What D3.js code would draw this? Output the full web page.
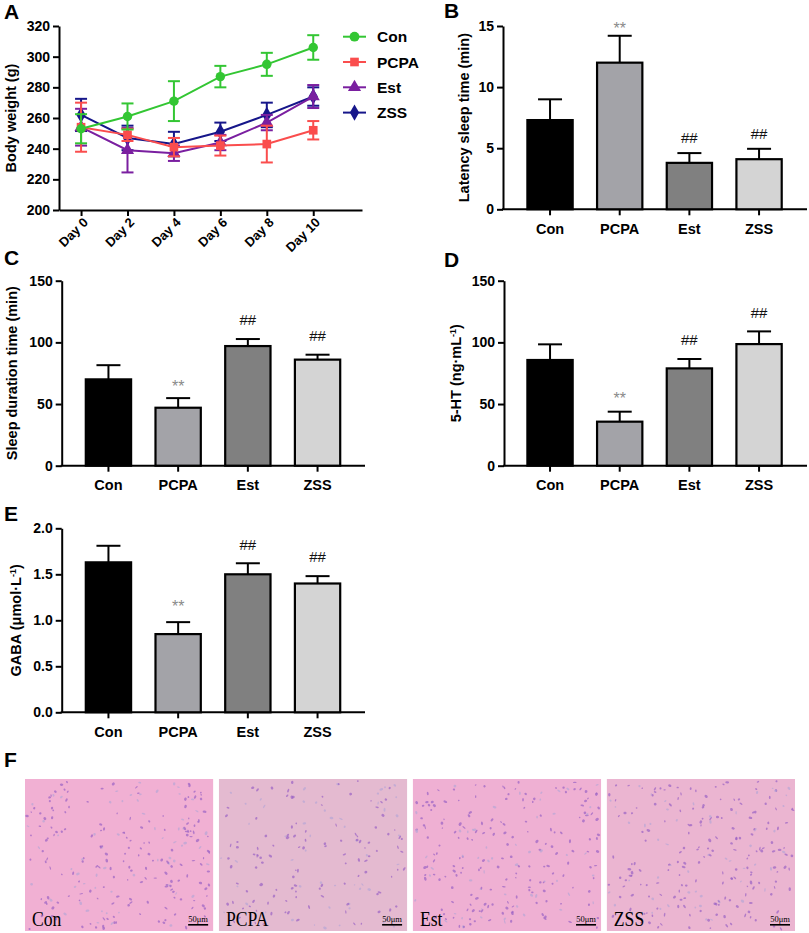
<!DOCTYPE html>
<html>
<head>
<meta charset="utf-8">
<script src="https://cdn.jsdelivr.net/npm/d3@7"></script>
<style>
  body { margin: 0; background: #fff; }
  text { font-family: "Liberation Sans", Arial, sans-serif; }
</style>
</head>
<body>
<div id="chart"></div>
<script>
const svgWidth = 809;
const svgHeight = 933;

// data
const groups = ['Con', 'PCPA', 'Est', 'ZSS'];
const days = [0, 2, 4, 6, 8, 10];
const dayLabels = ['Day 0', 'Day 2', 'Day 4', 'Day 6', 'Day 8', 'Day 10'];
const weightTicks = [200, 220, 240, 260, 280, 300, 320];

const conWeight = [253, 261, 271, 287, 295, 306];
const conWeightErr = [9.5, 8.5, 13, 7, 7.5, 8];
const pcpaWeight = [254, 249, 241, 242, 243, 252];
const pcpaWeightErr = [16, 4, 6, 6.5, 12, 6];
const estWeight = [254, 239, 237, 244, 257, 274];
const estWeightErr = [12, 14.5, 5, 5, 5, 7.5];
const zssWeight = [262, 247, 243, 251, 262, 274];
const zssWeightErr = [10.5, 8, 8, 6, 8, 6];

const latency = [7.3, 12.0, 3.8, 4.1];
const latencyErr = [1.7, 2.2, 0.8, 0.85];
const duration = [70, 47, 97, 86];
const durationErr = [11.5, 7.8, 5.7, 4];
const serotonin = [85.7, 35.7, 78.9, 98.6];
const serotoninErr = [12.7, 8.1, 7.6, 10.3];
const gaba = [1.63, 0.85, 1.50, 1.40];
const gabaErr = [0.18, 0.13, 0.12, 0.08];
const marks = ['', '**', '##', '##'];

const barColors = ['#000000', '#a3a3a8', '#808080', '#d4d4d4'];
const lineColors = ['#33c633', '#fa4d4d', '#7a1fa0', '#16168a'];
const symbols = [d3.symbolCircle, d3.symbolSquare, d3.symbolTriangle, d3.symbolDiamond];
const histFills = ['#f1b0d3', '#e4bad0', '#efb0d3', '#ebb5d1'];

const canvas = d3.select('#chart')
  .append('svg')
  .attr('width', svgWidth)
  .attr('height', svgHeight);

function panelLabel(txt, x, y) {
  canvas.append('text')
    .attr('x', x).attr('y', y)
    .attr('font-size', 21).attr('font-weight', 'bold')
    .text(txt);
}

function styleAxis(g, fs) {
  g.selectAll('path, line').attr('stroke', '#000').attr('stroke-width', 2);
  g.selectAll('text').attr('font-size', fs).attr('font-weight', 'bold').attr('fill', '#000')
    .style('font-family', '"Liberation Sans", Arial, sans-serif');
}

// x is the baseline position of the rotated title
function yTitle(parts, x, y) {
  const t = canvas.append('text')
    .attr('transform', `translate(${x},${y}) rotate(-90)`)
    .attr('text-anchor', 'middle')
    .attr('font-size', 14.5).attr('font-weight', 'bold');
  parts.forEach(p => {
    const s = t.append('tspan').text(p.t);
    if (p.sup) s.attr('font-size', 9).attr('baseline-shift', 'super');
  });
}

// panel A: body weight
(function () {
  const x = d3.scaleLinear().domain([-0.95, 12.1]).range([59, 362]);
  const y = d3.scaleLinear().domain([200, 320]).range([210, 26]);

  const gy = canvas.append('g').attr('transform', 'translate(59,0)')
    .call(d3.axisLeft(y).tickValues(weightTicks).tickSize(6).tickPadding(3).tickSizeOuter(0));
  styleAxis(gy, 14);

  const gx = canvas.append('g').attr('transform', 'translate(0,210)')
    .call(d3.axisBottom(x).tickValues(days).tickFormat((d, i) => dayLabels[i])
      .tickSize(6).tickSizeOuter(0));
  styleAxis(gx, 13);
  gx.selectAll('text')
    .attr('text-anchor', 'end')
    .attr('transform', 'translate(4,10) rotate(-45)')
    .attr('dy', '0.35em').attr('y', 0).attr('x', 0);

  yTitle([{ t: 'Body weight (g)' }], 16, 118);

  const series = [
    { name: 'Con', v: conWeight, e: conWeightErr },
    { name: 'PCPA', v: pcpaWeight, e: pcpaWeightErr },
    { name: 'Est', v: estWeight, e: estWeightErr },
    { name: 'ZSS', v: zssWeight, e: zssWeightErr }
  ];
  const order = [3, 2, 1, 0];
  const line = d3.line().x((d, i) => x(days[i])).y(d => y(d));

  order.forEach(k => {
    const s = series[k];
    const col = lineColors[k];
    const g = canvas.append('g');
    g.append('path').attr('d', line(s.v)).attr('fill', 'none')
      .attr('stroke', col).attr('stroke-width', 2);
    s.v.forEach((v, i) => {
      const cx = x(days[i]);
      g.append('line').attr('x1', cx).attr('x2', cx)
        .attr('y1', y(v - s.e[i])).attr('y2', y(v + s.e[i]))
        .attr('stroke', col).attr('stroke-width', 2);
      [v - s.e[i], v + s.e[i]].forEach(w => {
        g.append('line').attr('x1', cx - 6).attr('x2', cx + 6)
          .attr('y1', y(w)).attr('y2', y(w))
          .attr('stroke', col).attr('stroke-width', 2);
      });
      g.append('path')
        .attr('d', d3.symbol().type(symbols[k]).size(k === 0 ? 70 : 75)())
        .attr('transform', `translate(${cx},${y(v)})`)
        .attr('fill', col);
    });
  });

  // legend
  groups.forEach((name, k) => {
    const ly = 36.7 + k * 25.3;
    canvas.append('line').attr('x1', 343).attr('x2', 366)
      .attr('y1', ly).attr('y2', ly)
      .attr('stroke', lineColors[k]).attr('stroke-width', 2);
    canvas.append('path')
      .attr('d', d3.symbol().type(symbols[k]).size(75)())
      .attr('transform', `translate(354.5,${ly})`)
      .attr('fill', lineColors[k]);
    canvas.append('text').attr('x', 377).attr('y', ly).attr('dy', '0.36em')
      .attr('font-size', 15.5).attr('font-weight', 'bold').text(name);
  });

  panelLabel('A', 4, 19);
})();

// bar panels
function barPanel(opt) {
  const y = d3.scaleLinear().domain([0, opt.max]).range([opt.bottom, opt.top]);
  const x = d3.scaleBand().domain(groups).range(opt.band)
    .paddingInner(0.35).paddingOuter(0.175);
  const bw = x.bandwidth();

  const gy = canvas.append('g').attr('transform', `translate(${opt.axisX},0)`)
    .call(d3.axisLeft(y).tickValues(opt.ticks).tickFormat(opt.fmt || d3.format('d'))
      .tickSize(6).tickPadding(3).tickSizeOuter(0));
  styleAxis(gy, 14);

  const gx = canvas.append('g').attr('transform', `translate(0,${opt.bottom})`)
    .call(d3.axisBottom(x).tickSize(6).tickPadding(8).tickSizeOuter(0));
  gx.select('.domain').remove();
  styleAxis(gx, 14.5);
  canvas.append('line')
    .attr('x1', opt.axisX - 1).attr('x2', opt.xEnd)
    .attr('y1', opt.bottom).attr('y2', opt.bottom)
    .attr('stroke', '#000').attr('stroke-width', 2);

  groups.forEach((g, i) => {
    const v = opt.values[i];
    const e = opt.errs[i];
    const cx = x(g) + bw / 2;
    canvas.append('line').attr('x1', cx).attr('x2', cx)
      .attr('y1', y(v)).attr('y2', y(v + e))
      .attr('stroke', '#000').attr('stroke-width', 2);
    canvas.append('line').attr('x1', cx - 12).attr('x2', cx + 12)
      .attr('y1', y(v + e)).attr('y2', y(v + e))
      .attr('stroke', '#000').attr('stroke-width', 2);
    canvas.append('rect')
      .attr('x', x(g)).attr('y', y(v))
      .attr('width', bw).attr('height', opt.bottom - y(v))
      .attr('fill', barColors[i])
      .attr('stroke', '#000').attr('stroke-width', 2.2);

    const m = marks[i];
    if (m === '**') {
      const fs = 16;
      canvas.append('text').attr('x', cx)
        .attr('y', y(v + e) - opt.starGap + 0.58 * fs)
        .attr('text-anchor', 'middle').attr('font-size', fs)
        .attr('fill', '#8a8a8a').text(m);
    } else if (m === '##') {
      const fs = 15;
      canvas.append('text').attr('x', cx)
        .attr('y', y(v + e) - opt.hashGap + 0.35 * fs)
        .attr('text-anchor', 'middle').attr('font-size', fs)
        .attr('fill', '#111').text(m);
    }
  });

  yTitle(opt.title, opt.titleX, (opt.top + opt.bottom) / 2);
  panelLabel(opt.label, opt.labelX, opt.labelY);
}

barPanel({
  values: latency, errs: latencyErr, max: 15, ticks: [0, 5, 10, 15],
  top: 26, bottom: 209.3, axisX: 503, xEnd: 807, band: [515.2, 793.9],
  title: [{ t: 'Latency sleep time (min)' }], titleX: 469,
  label: 'B', labelX: 444, labelY: 18, starGap: 11, hashGap: 15
});

barPanel({
  values: duration, errs: durationErr, max: 150, ticks: [0, 50, 100, 150],
  top: 280.7, bottom: 465.7, axisX: 61.7, xEnd: 365, band: [73.6, 352.4],
  title: [{ t: 'Sleep duration time (min)' }], titleX: 17,
  label: 'C', labelX: 4, labelY: 265, starGap: 15, hashGap: 19
});

barPanel({
  values: serotonin, errs: serotoninErr, max: 150, ticks: [0, 50, 100, 150],
  top: 280.7, bottom: 465.7, axisX: 504, xEnd: 807, band: [515.2, 793.9],
  title: [{ t: '5-HT (ng·mL' }, { t: '-1', sup: true }, { t: ')' }], titleX: 461,
  label: 'D', labelX: 444, labelY: 267, starGap: 17, hashGap: 19
});

barPanel({
  values: gaba, errs: gabaErr, max: 2, ticks: [0, 0.5, 1, 1.5, 2], fmt: d3.format('.1f'),
  top: 528.3, bottom: 712.3, axisX: 61.7, xEnd: 365, band: [73.6, 352.4],
  title: [{ t: 'GABA (μmol·L' }, { t: '-1', sup: true }, { t: ')' }], titleX: 21,
  label: 'E', labelX: 4, labelY: 521, starGap: 19, hashGap: 19
});

// panel F: histology placeholders
panelLabel('F', 4, 767);
const hx = d3.scaleBand().domain(groups).range([25, 795]).paddingInner(0.03);
const hTop = 779, hBottom = 931;

groups.forEach((g, k) => {
  const x0 = hx(g);
  const w = hx.bandwidth();
  const grp = canvas.append('g');
  grp.append('rect').attr('x', x0).attr('y', hTop)
    .attr('width', w).attr('height', hBottom - hTop)
    .attr('fill', histFills[k]);

  // nuclei texture (deterministic)
  let seed = 17 + k * 101;
  const rnd = () => { seed = (seed * 16807) % 2147483647; return seed / 2147483647; };
  const n = k === 1 ? 170 : 240;
  for (let i = 0; i < n; i++) {
    const cx = x0 + 2 + rnd() * (w - 4);
    const cy = hTop + 2 + rnd() * (hBottom - hTop - 4);
    grp.append('ellipse')
      .attr('cx', cx).attr('cy', cy)
      .attr('rx', 0.8 + rnd() * 1.2).attr('ry', 0.6 + rnd() * 0.8)
      .attr('transform', `rotate(${rnd() * 180},${cx},${cy})`)
      .attr('fill', rnd() < 0.75 ? '#9a62c4' : '#b6a6d6')
      .attr('opacity', 0.7);
  }

  grp.append('text').attr('x', x0 + 7).attr('y', hBottom - 5)
    .attr('font-size', 20)
    .style('font-family', '"Liberation Serif", serif')
    .attr('transform', `translate(${(x0 + 7) * 0.12},0) scale(0.88,1)`)
    .attr('fill', '#000').text(g);
  grp.append('text').attr('x', x0 + w - 15).attr('y', hBottom - 9)
    .attr('text-anchor', 'middle').attr('font-size', 8.5)
    .style('font-family', '"Liberation Serif", serif')
    .attr('fill', '#000').text('50μm');
  grp.append('rect').attr('x', x0 + w - 25).attr('y', hBottom - 7)
    .attr('width', 20).attr('height', 1.6).attr('fill', '#000');
});
</script>
</body>
</html>
